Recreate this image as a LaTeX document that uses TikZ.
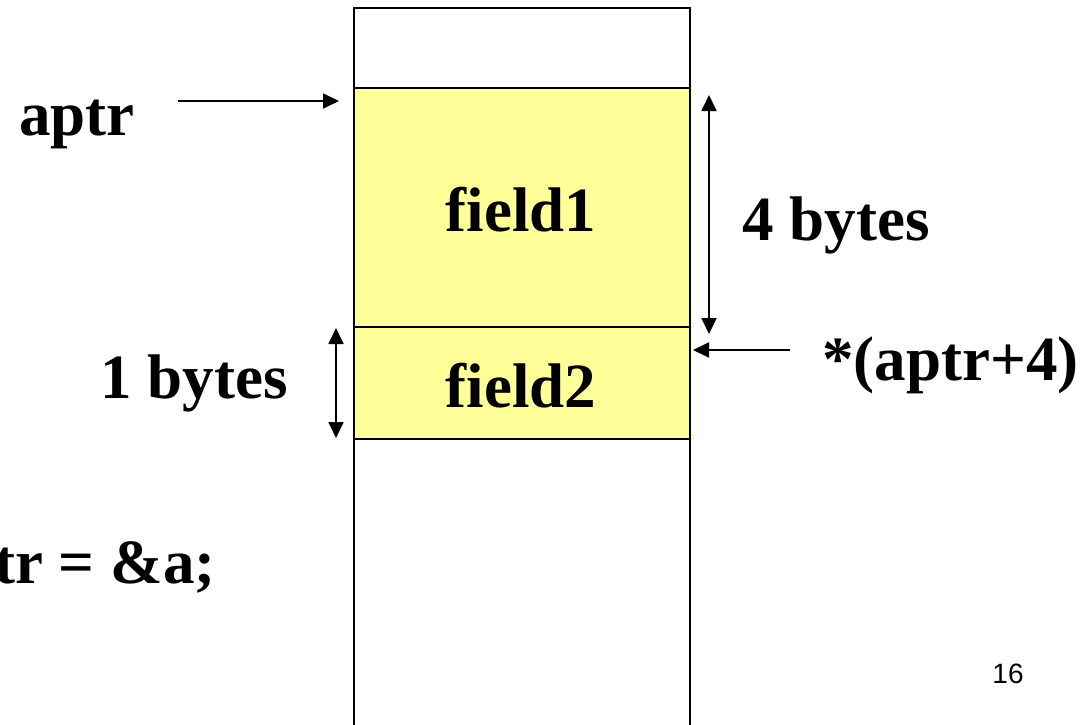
\documentclass[tikz,border=0pt]{standalone}
\usepackage{fontspec}
\setmainfont{Liberation Serif}
\newfontfamily\pagenofont{Liberation Sans}
\usetikzlibrary{arrows.meta,positioning,calc}
\definecolor{fieldyellow}{HTML}{FFFF99}

\begin{document}
\begin{tikzpicture}[
  x=0.5pt, y=-0.5pt,
  font=\fontsize{31.5}{36}\selectfont\bfseries,
  >={Triangle[length=8pt,width=7.5pt]},
  cell/.style={draw, line width=0.8pt, inner sep=0pt, outer sep=0pt,
    minimum width=168pt},
  field/.style={cell, fill=fieldyellow},
  lbl/.style={anchor=base, inner sep=0pt},
  ptr/.style={line width=0.9pt, ->},
  dim/.style={line width=0.9pt, <->}
]
  \useasboundingbox (0,0) rectangle (1092,724);
  \clip (0,0) rectangle (1092,724);

  % memory column
  \node[cell, minimum height=40pt, anchor=north west] (top) at (354,8) {};
  \node[field, minimum height=119.5pt, below=0pt of top] (field1) {};
  \node[field, minimum height=56pt, below=0pt of field1] (field2) {};
  \node[cell, minimum height=160pt, below=0pt of field2] (rest) {};

  \node[lbl] (f1text) at (521,231) {field1};
  \node[lbl] (f2text) at (521,407) {field2};

  % pointer aptr
  \node[lbl] (aptr) at (77,135) {aptr};
  \coordinate (aptrtail) at (178,101);
  \coordinate (aptrhead) at (339,101);
  \draw[ptr] (aptrtail) -- (aptrhead);

  % size of field1
  \coordinate (d4top) at ($(field1.north east)+(19,7)$);
  \coordinate (d4bot) at ($(field1.south east)+(19,7)$);
  \draw[dim] (d4top) -- (d4bot);
  \node[lbl, anchor=base west] (four) at (742,240) {4 bytes};

  % size of field2
  \coordinate (d1top) at ($(field2.north west)+(-18,1)$);
  \coordinate (d1bot) at ($(field2.south west)+(-18,-1)$);
  \draw[dim] (d1top) -- (d1bot);
  \node[lbl, anchor=base east] (one) at (288,398) {1 bytes};

  % pointer aptr+4
  \coordinate (offtail) at (790,350);
  \coordinate (offhead) at ($(field2.north east)+(3,23)$);
  \draw[ptr] (offtail) -- (offhead);
  \node[lbl, anchor=base west] (offset) at (822,380) {*(aptr+4)};

  \node[lbl, anchor=base east] (assign) at (216,583) {aptr = \&a;};

  \node[lbl, font=\pagenofont\fontsize{14}{16}\selectfont] (pageno) at (1008,683) {16};
\end{tikzpicture}
\end{document}
